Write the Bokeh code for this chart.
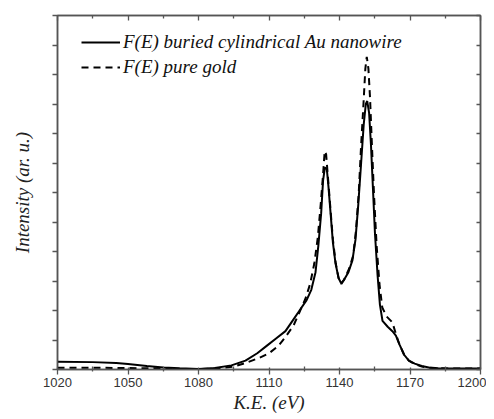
from bokeh.plotting import figure
from bokeh.models import Range1d, FixedTicker, LinearAxis, Legend, LegendItem
from bokeh.embed import file_html
from bokeh.resources import INLINE

# ---- data ----
energy_wire = [1020, 1035, 1045, 1050, 1058, 1065, 1072, 1080, 1087, 1094, 1100, 1105, 1109,
               1113, 1117, 1120, 1123, 1126, 1128, 1129.8, 1131, 1132.2, 1133, 1133.8, 1134.6,
               1135.3, 1136.2, 1137.2, 1138.3, 1139.6, 1140.7, 1142, 1143.8, 1145.5, 1146.8,
               1148, 1149.2, 1150.3, 1151.2, 1151.8, 1152.6, 1153.4, 1154.2, 1155.1, 1156.2,
               1157.2, 1158.3, 1160.5, 1162.5, 1164, 1165.5, 1167.5, 1169.5, 1172, 1175, 1178,
               1182, 1190, 1200]
intensity_wire = [0.26, 0.25, 0.22, 0.19, 0.12, 0.07, 0.04, 0.02, 0.05, 0.14, 0.3, 0.55, 0.8,
                  1.05, 1.3, 1.65, 2.0, 2.35, 2.7, 3.3, 4.2, 5.3, 6.4, 6.85, 6.8,
                  6.2, 5.3, 4.3, 3.6, 3.1, 2.92, 3.05, 3.3, 3.7, 4.4,
                  5.6, 7.0, 8.3, 9.0, 9.1, 8.7, 7.6, 6.2, 4.6, 3.2,
                  2.2, 1.65, 1.45, 1.3, 1.15, 0.85, 0.5, 0.3, 0.2, 0.12, 0.07,
                  0.04, 0.03, 0.03]

energy_gold = [1020, 1035, 1050, 1060, 1070, 1080, 1088, 1095, 1100, 1106, 1110, 1114, 1117,
               1120.5, 1123, 1125.5, 1127.5, 1129.3, 1130.8, 1132, 1133, 1133.7, 1134.3, 1135,
               1136, 1137.2, 1138.4, 1139.6, 1140.8, 1142, 1144, 1145.8, 1147, 1148.2, 1149.2,
               1150.2, 1151, 1151.6, 1152.3, 1153, 1153.8, 1154.7, 1155.8, 1157, 1158.2, 1160,
               1162.5, 1164, 1165.5, 1167.5, 1169.5, 1172, 1175, 1178, 1182, 1190, 1200]
intensity_gold = [0.06, 0.06, 0.05, 0.04, 0.02, 0.01, 0.04, 0.1, 0.22, 0.4, 0.55, 0.8, 1.1,
                  1.5, 1.95, 2.4, 2.9, 3.6, 4.5, 5.6, 6.6, 7.4, 7.3, 6.6,
                  5.6, 4.4, 3.6, 3.1, 2.9, 3.05, 3.4, 3.85, 4.7, 6.0, 7.6,
                  9.0, 10.2, 10.6, 10.2, 9.2, 7.6, 5.9, 4.2, 2.9, 2.1, 1.8,
                  1.6, 1.2, 0.85, 0.5, 0.3, 0.18, 0.1, 0.06, 0.04, 0.03, 0.03]

x_major_ticks = [1020, 1050, 1080, 1110, 1140, 1170, 1200]
x_minor_ticks = [1035, 1065, 1095, 1125, 1155, 1185]
y_ticks = list(range(0, 13))

label_wire = "F(E) buried cylindrical Au nanowire"
label_gold = "F(E) pure gold"
x_title = "K.E. (eV)"
y_title = "Intensity (ar. u.)"

FRAME = "#555555"
TXT = "#222222"
SERIF = "Liberation Serif"

p = figure(width=486, height=415, output_backend="svg", toolbar_location=None,
           x_range=Range1d(1020, 1200), y_range=Range1d(0, 12),
           min_border_left=57, min_border_right=6, min_border_top=15, min_border_bottom=40,
           x_axis_location=None, y_axis_location=None)
p.grid.visible = False
p.outline_line_color = FRAME
p.outline_line_width = 1.5
p.background_fill_color = "white"
p.border_fill_color = "white"

xt = FixedTicker(ticks=x_major_ticks, minor_ticks=x_minor_ticks)
yt = FixedTicker(ticks=y_ticks, minor_ticks=[])

def style(ax):
    ax.axis_line_color = FRAME
    ax.axis_line_width = 1.5
    ax.major_tick_line_color = FRAME
    ax.minor_tick_line_color = FRAME
    ax.major_tick_line_width = 1.3
    ax.minor_tick_line_width = 1.3

# bottom axis
xb = LinearAxis(ticker=xt, axis_label=x_title)
style(xb)
xb.major_tick_out = 5
xb.major_tick_in = 2
xb.minor_tick_out = 2
xb.minor_tick_in = 3
xb.major_label_text_font = "Liberation Sans"
xb.major_label_text_font_size = "13px"
xb.major_label_text_color = "#333333"
xb.major_label_standoff = 3
xb.axis_label_text_font = SERIF
xb.axis_label_text_font_style = "italic"
xb.axis_label_text_font_size = "19px"
xb.axis_label_text_color = TXT
xb.axis_label_standoff = 2
p.add_layout(xb, "below")

# top axis (ticks only)
xa = LinearAxis(ticker=xt, major_label_overrides={t: "" for t in x_major_ticks})
style(xa)
xa.major_tick_out = 0
xa.major_tick_in = 5
xa.minor_tick_out = 0
xa.minor_tick_in = 3
xa.major_label_standoff = 0
p.add_layout(xa, "above")

# left axis
yl = LinearAxis(ticker=yt, axis_label=y_title, major_label_overrides={t: "" for t in y_ticks})
style(yl)
yl.major_tick_out = 5
yl.major_tick_in = 0
yl.major_label_standoff = 0
yl.axis_label_text_font = SERIF
yl.axis_label_text_font_style = "italic"
yl.axis_label_text_font_size = "19px"
yl.axis_label_text_color = TXT
yl.axis_label_standoff = 20
p.add_layout(yl, "left")

# right axis (ticks only)
yr = LinearAxis(ticker=yt, major_label_overrides={t: "" for t in y_ticks})
style(yr)
yr.major_tick_out = 0
yr.major_tick_in = 4
yr.major_label_standoff = 0
p.add_layout(yr, "right")

r_wire = p.line(energy_wire, intensity_wire, line_color="black", line_width=2)
r_gold = p.line(energy_gold, intensity_gold, line_color="black", line_width=2, line_dash="7 5")

legend = Legend(items=[LegendItem(label=label_wire, renderers=[r_wire]),
                       LegendItem(label=label_gold, renderers=[r_gold])],
                location=(24, 291))
legend.border_line_color = None
legend.background_fill_alpha = 0
legend.padding = 0
legend.margin = 0
legend.spacing = 3
legend.glyph_width = 39
legend.glyph_height = 20
legend.label_height = 20
legend.label_standoff = 3
legend.label_text_font = SERIF
legend.label_text_font_style = "italic"
legend.label_text_font_size = "19px"
legend.label_text_color = "#111111"
p.add_layout(legend, "center")

open("out.html", "w").write(file_html(p, INLINE))
